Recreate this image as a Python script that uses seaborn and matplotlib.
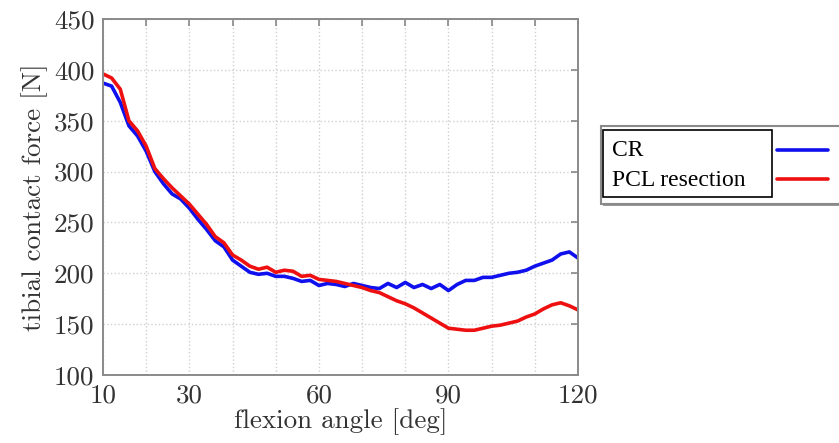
import matplotlib
matplotlib.use("Agg")
import matplotlib.pyplot as plt
from matplotlib.patches import Rectangle
from matplotlib.lines import Line2D
import seaborn as sns
import pandas as pd

# Flexion angle [deg], sampled every 2 degrees
angle = list(range(10, 121, 2))

# Tibial contact force [N]
cr_force = [387, 384, 368, 345, 335, 320, 300, 288, 278, 273,
            264, 253, 243, 232, 226, 213, 207, 201, 199, 200,
            197, 197, 195, 192, 193, 188, 190, 189, 187, 190,
            188, 186, 185, 190, 186, 191, 186, 189, 185, 189,
            183, 189, 193, 193, 196, 196, 198, 200, 201, 203,
            207, 210, 213, 219, 221, 215]
pcl_force = [396, 392, 381, 350, 340, 325, 303, 293, 284, 276,
             268, 258, 248, 236, 230, 218, 213, 207, 204, 206,
             201, 203, 202, 197, 198, 194, 193, 192, 190, 188,
             186, 183, 181, 177, 173, 170, 166, 161, 156, 151,
             146, 145, 144, 144, 146, 148, 149, 151, 153, 157,
             160, 165, 169, 171, 168, 164]

series_names = ["CR", "PCL resection"]
series_colors = ["#1010ee", "#ee1010"]

x_ticks = list(range(10, 121, 10))
x_tick_labels = ["10", "", "30", "", "", "60", "", "", "90", "", "", "120"]
y_ticks = list(range(100, 451, 50))

sns.set_style("white")
plt.rcParams["font.family"] = ["cmr10", "DejaVu Serif"]
plt.rcParams["axes.formatter.use_mathtext"] = True

df = pd.DataFrame({
    "angle": angle * 2,
    "force": cr_force + pcl_force,
    "series": [series_names[0]] * len(angle) + [series_names[1]] * len(angle),
})

fig = plt.figure(figsize=(8.39, 4.43), dpi=100)
ax = fig.add_axes([103 / 839, 68 / 443, 475 / 839, 356 / 443])

sns.lineplot(data=df, x="angle", y="force", hue="series",
             palette=series_colors, linewidth=2.6, legend=False, ax=ax)

ax.set_xlim(10, 120)
ax.set_ylim(100, 450)
ax.set_xticks(x_ticks)
ax.set_xticklabels(x_tick_labels)
ax.set_yticks(y_ticks)
ax.set_yticklabels([str(v) for v in y_ticks])
ax.grid(True, color="#d0d0d0", linestyle=":", linewidth=1.0)
ax.tick_params(axis="both", direction="in", length=5, width=1.2, color="#888888",
               top=True, right=True, labelsize=19.5, labelcolor="#333333")
ax.tick_params(axis="x", pad=6)
ax.tick_params(axis="y", pad=6)
for s in ax.spines.values():
    s.set_color("#8a8a8a")
    s.set_linewidth(1.4)

ax.set_xlabel("flexion angle [deg]", fontsize=19.5, color="#333333", labelpad=1)
ax.set_ylabel("tibial contact force [N]", fontsize=19.5, color="#333333", labelpad=4)

# legend box, drawn by hand: gray outer frame, black inner frame, lines to the right
W, H = 839, 443
def fx(px):
    return px / W
def fy(py):
    return 1 - py / H

fig.patches.append(Rectangle((fx(603), fy(206)), fx(842) - fx(603), fy(126) - fy(206),
                             transform=fig.transFigure, facecolor="#9a9a9a",
                             edgecolor="none", zorder=1))
fig.patches.append(Rectangle((fx(601), fy(204)), fx(842) - fx(601), fy(126) - fy(204),
                             transform=fig.transFigure, facecolor="white",
                             edgecolor="#8a8a8a", linewidth=1.5, zorder=2))
fig.patches.append(Rectangle((fx(603), fy(197)), fx(772) - fx(603), fy(130) - fy(197),
                             transform=fig.transFigure, facecolor="white",
                             edgecolor="black", linewidth=1.2, zorder=3))
for i, (name, col) in enumerate(zip(series_names, series_colors)):
    yy = 151 + 29 * i
    fig.text(fx(612), fy(yy), name, fontsize=17, family="Liberation Serif",
             va="center", ha="left", color="black", zorder=4)
    fig.lines.append(Line2D([fx(777), fx(828)], [fy(yy - 1), fy(yy - 1)],
                            transform=fig.transFigure, color=col,
                            linewidth=2.6, zorder=4))

fig.savefig("out.png", dpi=100)
